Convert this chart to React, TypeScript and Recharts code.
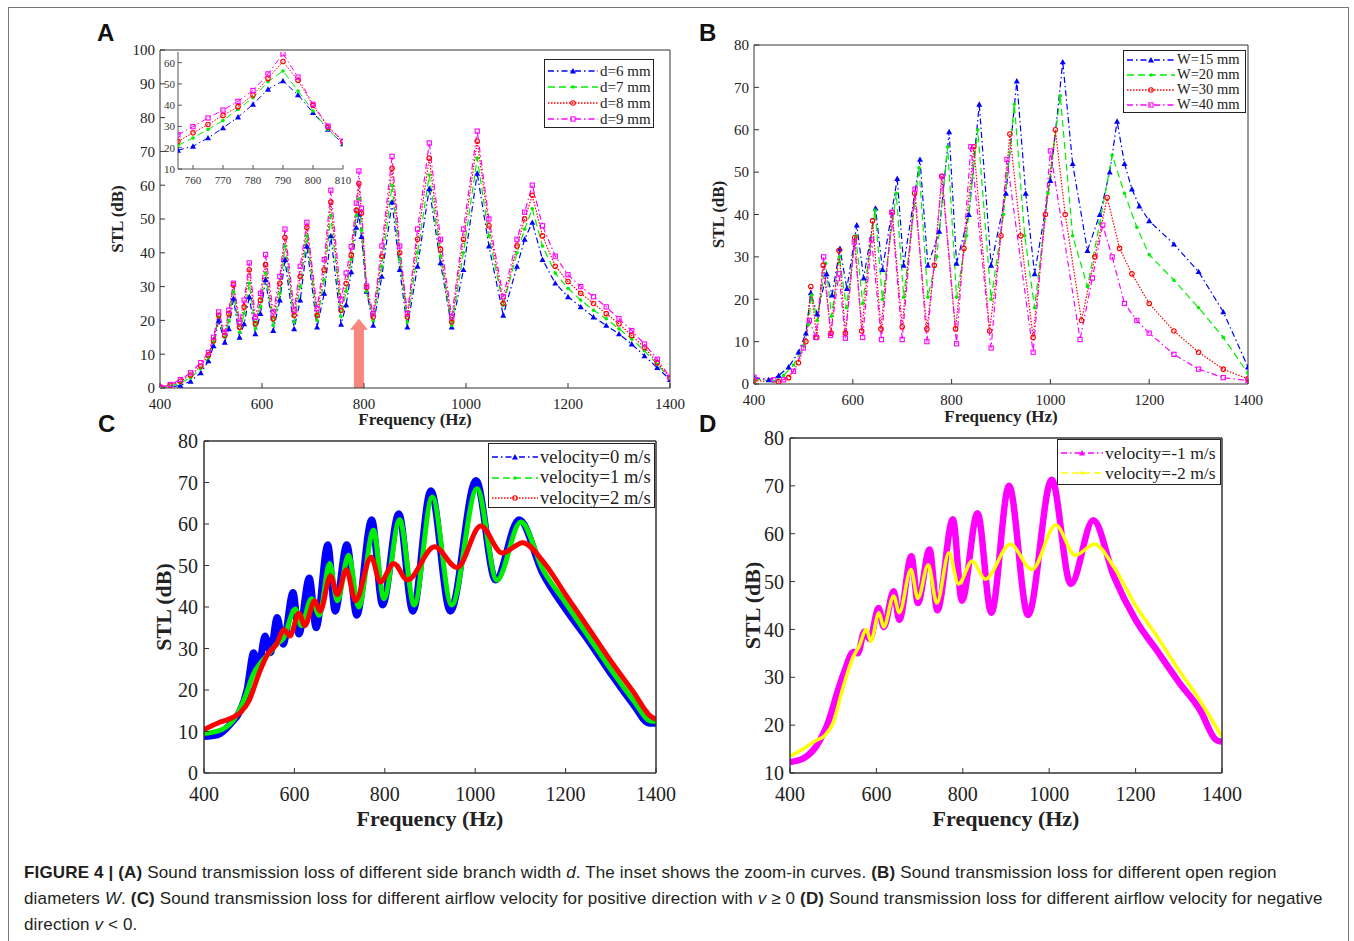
import React from 'react';
import { LineChart, Line, XAxis, YAxis, ReferenceLine } from 'recharts';

const SERIF = '"Liberation Serif", "Times New Roman", serif';
const SANS = '"Liberation Sans", Arial, sans-serif';

// ---------- Panel A: side branch width d ----------
const freqA = [400, 420, 440, 460, 480, 495, 505, 515, 527, 535, 544, 556, 565, 575, 587, 597, 607, 622, 635, 645,
  663, 675, 688, 708, 722, 735, 755, 765, 775, 785, 790, 795, 805, 818, 835, 855, 870, 885, 905, 928,
  950, 972, 995, 1022, 1045, 1073, 1100, 1115, 1130, 1150, 1175, 1200, 1225, 1250, 1275, 1300, 1325, 1350, 1375, 1400];
const stlA6 = [0, 0.2, 0.8, 2, 4.5, 8, 12.5, 20, 13.5, 17.5, 26.5, 15, 19, 27, 16, 22, 32, 17, 26, 38,
  17.5, 26, 42, 18, 28, 45, 18.8, 24.6, 34.4, 47.5, 51.4, 44.8, 28.6, 18.5, 33, 55, 35, 18, 36, 59,
  37, 18, 35, 63.5, 42, 21.5, 36, 44, 49, 38, 31, 27, 24, 21, 18.5, 16, 13, 9.5, 6, 2.5];
const stlA7 = [0, 0.5, 1.5, 3, 5.8, 9, 13.5, 21, 15, 20, 28.5, 16.5, 22, 31, 17.5, 24, 34, 18.5, 28, 42,
  19.5, 30, 45, 20, 32, 51, 21.1, 28.6, 38, 51, 56, 46.7, 28.6, 20, 36, 60, 38, 19.5, 40, 63,
  39, 18.5, 40, 68, 45, 24.5, 40, 47, 53, 42, 34, 29.5, 26, 23, 20.5, 17.5, 14.5, 11, 7, 2.8];
const stlA8 = [0.2, 0.8, 2, 3.8, 6.5, 9.8, 14, 21.5, 15.5, 22, 30.5, 18, 24, 35, 19, 26, 36.5, 20.5, 31, 44.5,
  21.5, 33, 47.5, 21.5, 35, 55, 23, 30.9, 39.3, 52.6, 60.5, 51.7, 29.7, 21, 39, 65, 40, 21, 44, 68,
  41, 19.5, 44, 73, 48, 25, 42, 50, 57, 45, 36, 31.5, 28, 25, 22, 19, 15.5, 12, 7.5, 3];
const stlA9 = [0.3, 1, 2.5, 4.5, 7.5, 10.5, 15, 22.5, 16.5, 23, 31, 19.5, 26, 37, 21, 28, 39.5, 22.5, 33, 47,
  23, 36, 49, 23.5, 38, 58.5, 26.1, 34, 41.8, 54.7, 64.2, 53.2, 30.2, 22, 42, 68.5, 42, 22, 47, 72.5,
  44, 21, 47, 76, 50, 27, 44, 52, 60, 48, 39, 33.5, 30, 27, 24, 20.5, 17, 13, 8.5, 3.2];

// inset (zoom-in around 790 Hz)
const freqInset = [755, 760, 765, 770, 775, 780, 785, 790, 795, 800, 805, 810];
const insetA6 = [18.8, 20.7, 24.6, 29.3, 34.4, 40.4, 47.5, 51.4, 44.8, 36.5, 28.6, 21.8];
const insetA7 = [21.1, 24.6, 28.6, 32.8, 38, 43.5, 51, 56.1, 46.7, 37.3, 28.6, 21.8];
const insetA8 = [23, 27, 30.9, 35.2, 39.3, 44.8, 52.6, 60.5, 51.7, 39.9, 29.7, 22.8];
const insetA9 = [26.1, 29.9, 34, 37.7, 41.8, 46.9, 54.7, 64.2, 53.2, 40.4, 30.2, 23.1];

// ---------- Panel B: open region diameter W ----------
const freqB15 = [400, 430, 450, 470, 490, 505, 515, 528, 547, 558, 574, 588, 608, 622, 646, 660, 690, 703, 736, 752,
  775, 795, 810, 835, 856, 880, 910, 932, 950, 968, 1000, 1025, 1045, 1075, 1100, 1120, 1135, 1150, 1165, 1180,
  1200, 1250, 1300, 1350, 1400];
const stlB15 = [1.5, 1, 2, 4, 7.5, 12, 21.5, 16.5, 26, 21, 32, 22.5, 37.5, 25, 41.5, 27, 48.5, 28, 53, 28,
  36, 59.5, 28.5, 40, 66, 28, 45, 71.5, 45, 26, 48, 76, 52, 31.5, 40, 50, 62, 52, 46, 42,
  38.5, 33, 26.5, 17, 4];
const freqB20 = [400, 440, 460, 480, 500, 510, 517, 528, 545, 557, 573, 587, 606, 620, 645, 660, 688, 703, 734, 752,
  770, 792, 810, 830, 853, 880, 905, 927, 948, 968, 995, 1020, 1045, 1075, 1100, 1125, 1150, 1175, 1200, 1250,
  1300, 1350, 1400];
const stlB20 = [1.2, 0.6, 2, 4.5, 9, 14, 21, 15, 28.5, 16, 30, 18, 35, 19, 41, 20, 45, 20.5, 51, 20.5,
  30, 56, 20.5, 35, 60, 20, 40, 66, 35, 18, 45, 68, 35, 23, 38, 54, 45, 37, 30.5, 24.5,
  18, 11, 2.5];
const freqB30 = [400, 450, 470, 490, 505, 515, 527, 540, 556, 572, 585, 604, 618, 640, 657, 680, 700, 725, 750, 765,
  780, 808, 825, 845, 877, 900, 918, 940, 965, 990, 1010, 1030, 1063, 1090, 1115, 1140, 1165, 1200, 1250, 1300,
  1350, 1400];
const stlB30 = [0.8, 0.5, 1.5, 5, 10, 23, 11, 28, 12, 31.5, 12, 34.5, 12.5, 38.5, 13, 40.5, 13.5, 45, 13, 28,
  49, 13, 32, 56, 12.5, 35, 59, 35, 11, 40, 60, 40, 15, 30, 44, 32, 26, 19, 12.5, 7.5,
  3.5, 1.2];
const freqB40 = [400, 440, 460, 480, 500, 512, 525, 541, 555, 572, 585, 603, 620, 638, 658, 679, 700, 726, 750, 781,
  810, 839, 880, 912, 965, 1000, 1060, 1085, 1106, 1125, 1150, 1175, 1200, 1250, 1300, 1350, 1400];
const stlB40 = [1.6, 1, 1, 3, 8.5, 15, 11, 30, 11.5, 26, 10.8, 33.5, 11, 34, 10.5, 40.5, 10.5, 46, 10, 49,
  9.5, 56, 8.5, 53, 7.5, 55, 10.5, 25, 37.5, 30, 19, 15, 12, 7, 3.5, 1.5, 0.8];

// ---------- Panel C: airflow velocity, positive ----------
const freqC0 = [400, 430, 460, 480, 495, 510, 520, 535, 547, 562, 575, 597, 610, 633, 648, 674, 690, 716, 738, 771,
  795, 831, 862, 902, 945, 1002, 1045, 1097, 1150, 1200, 1250, 1300, 1350, 1385, 1400];
const stlC0 = [8.8, 9.2, 12, 15, 20, 29, 25, 33, 29, 37.5, 31, 43.5, 33.5, 47, 35, 55, 39, 55, 38, 61,
  40.5, 62.5, 39, 68, 39, 70.5, 46.5, 61, 48, 39.5, 32, 24, 16.5, 12, 12];
const freqC1 = [400, 440, 470, 490, 510, 525, 545, 560, 576, 602, 615, 638, 655, 678, 695, 720, 742, 775, 798, 833,
  865, 905, 948, 1004, 1048, 1101, 1150, 1200, 1250, 1300, 1350, 1390, 1400];
const stlC1 = [9.5, 10.5, 13.5, 18, 24, 26.5, 29, 31, 32.5, 39.5, 35.5, 42, 38, 50.5, 41.5, 52.5, 40, 58.5, 42, 61,
  40.5, 66.5, 40.5, 68.5, 46.5, 60.5, 49, 41, 33, 25, 17.5, 12.5, 12.5];
const freqC2 = [400, 430, 460, 480, 500, 520, 540, 560, 577, 590, 610, 623, 645, 657, 680, 695, 715, 735, 770, 790,
  820, 850, 910, 960, 1012, 1060, 1105, 1150, 1200, 1250, 1300, 1350, 1390, 1400];
const stlC2 = [10.5, 12, 13.2, 14.5, 17.5, 23.5, 28.5, 31, 34.5, 33, 38.5, 35.5, 41.5, 39, 47.5, 43, 49, 41.5, 52, 46,
  50.5, 46.5, 54.5, 49.5, 59.5, 53, 55.5, 51, 43, 35, 27, 19.5, 13.5, 13];

// ---------- Panel D: airflow velocity, negative ----------
const freqD1 = [400, 430, 460, 490, 510, 525, 547, 557, 572, 585, 605, 617, 640, 653, 681, 696, 723, 741, 777, 798,
  834, 866, 907, 951, 1006, 1050, 1102, 1150, 1200, 1250, 1300, 1350, 1385, 1400];
const stlD1 = [12.3, 13, 15.5, 21, 27, 31, 35.3, 35, 39.5, 38, 44.5, 40.5, 48, 42, 55.3, 45.5, 56.7, 44, 63, 46,
  64.3, 43.5, 70, 43, 71.3, 49.5, 62.8, 51, 42, 35.5, 29, 23, 17, 16.5];
const freqD2 = [400, 430, 460, 480, 500, 520, 545, 560, 577, 587, 606, 617, 640, 653, 680, 696, 720, 740, 768, 790,
  822, 852, 910, 960, 1015, 1060, 1105, 1150, 1200, 1250, 1300, 1350, 1400];
const stlD2 = [13.5, 15, 16.8, 17.8, 20.5, 27, 34, 36.5, 40, 37.5, 43.5, 40.5, 47, 43.5, 52.5, 46.5, 53.5, 45.5, 56, 49.5,
  54.3, 50.5, 57.8, 52.5, 61.8, 55.5, 57.8, 53, 45, 38.5, 31.5, 25, 17.5];

const freqTicks = [400, 600, 800, 1000, 1200, 1400];

const zip = (f: number[], v: number[]) => f.map((x, i) => ({ f: x, v: v[i] }));

const BLUE = '#0000ff';
const GREEN = '#00ee00';
const RED = '#ff0000';
const MAGENTA = '#ff00ff';
const YELLOW = '#ffff00';

const DASHDOT = '6 3 1.5 3';
const DASHED = '7 4';
const DOTTED = '1.5 1.5';

type Marker = 'tri' | 'dot' | 'circ' | 'sq' | 'none';

type Series = {
  name: string;
  color: string;
  dash: string;
  marker: Marker;
  data: { f: number; v: number }[];
  width?: number;
  curve?: 'linear' | 'monotone';
};

const drawMarker = (kind: Marker, color: string, s: number, cx: number, cy: number, key: any) => {
  if (kind === 'tri')
    return <polygon key={key} points={`${cx},${cy - s} ${cx - s},${cy + s * 0.8} ${cx + s},${cy + s * 0.8}`} fill={color} />;
  if (kind === 'dot') return <circle key={key} cx={cx} cy={cy} r={s * 0.6} fill={color} />;
  if (kind === 'circ') return <circle key={key} cx={cx} cy={cy} r={s * 0.75} fill="none" stroke={color} strokeWidth={1.1} />;
  if (kind === 'sq')
    return <rect key={key} x={cx - s * 0.7} y={cy - s * 0.7} width={s * 1.4} height={s * 1.4} fill="none" stroke={color} strokeWidth={1.1} />;
  return <g key={key} />;
};

const dotFn = (kind: Marker, color: string, s: number) => (p: any) => {
  if (p.cx == null || p.cy == null) return <g key={p.index} />;
  return drawMarker(kind, color, s, p.cx, p.cy, p.index);
};

type PanelProps = {
  box: [number, number, number, number];
  yDomain: [number, number];
  yTicks: number[];
  series: Series[];
  tickFont: number;
  titleFont: number;
  xTickMargin: number;
  yTickMargin: number;
  xTitleOffset: number;
  yTitleOffset: number;
  markerSize: number;
  axisWidth?: number;
  children?: React.ReactNode;
};

function Panel({ box, yDomain, yTicks, series, tickFont, titleFont, xTickMargin, yTickMargin, xTitleOffset, yTitleOffset, markerSize, axisWidth = 1, children }: PanelProps) {
  const [x0, y0, x1, y1] = box;
  const left = x0 - 70;
  const top = y0 - 10;
  const width = x1 - x0 + 100;
  const height = y1 - y0 + 75;
  const tick = { fill: '#222', fontSize: tickFont, fontFamily: SERIF };
  const titleStyle = { fill: '#222', fontSize: titleFont, fontFamily: SERIF, fontWeight: 700, textAnchor: 'middle' as const };
  const axisLine = { stroke: '#333', strokeWidth: axisWidth };
  return (
    <div style={{ position: 'absolute', left, top }}>
      <LineChart width={width} height={height} margin={{ top: 5, right: 25, bottom: 15, left: 10 }}>
        <XAxis xAxisId="b" type="number" dataKey="f" domain={[400, 1400]} ticks={freqTicks} allowDataOverflow interval={0}
          tickSize={-5} tickMargin={xTickMargin} height={50} axisLine={axisLine} tickLine={{ stroke: '#333' }} tick={tick}
          label={{ value: 'Frequency (Hz)', position: 'insideTop', offset: xTitleOffset, style: titleStyle }} />
        <XAxis xAxisId="t" orientation="top" type="number" dataKey="f" domain={[400, 1400]} ticks={freqTicks} allowDataOverflow
          interval={0} tickSize={-5} height={5} axisLine={axisLine} tickLine={{ stroke: '#333' }} tick={false} />
        <YAxis yAxisId="l" type="number" domain={yDomain} ticks={yTicks} allowDataOverflow interval={0}
          tickSize={-5} tickMargin={yTickMargin} width={60} axisLine={axisLine} tickLine={{ stroke: '#333' }} tick={tick}
          label={{ value: 'STL (dB)', angle: -90, position: 'insideLeft', offset: yTitleOffset, style: titleStyle }} />
        <YAxis yAxisId="r" orientation="right" type="number" domain={yDomain} ticks={yTicks} allowDataOverflow interval={0}
          tickSize={-5} width={5} axisLine={axisLine} tickLine={{ stroke: '#333' }} tick={false} />
        {series.map((s) => (
          <Line key={s.name} xAxisId="b" yAxisId="l" data={s.data} dataKey="v" type={s.curve || 'linear'}
            stroke={s.color} strokeWidth={s.width || 1.2} strokeDasharray={s.width && s.width > 2 ? undefined : s.dash}
            dot={s.marker === 'none' ? false : dotFn(s.marker, s.color, markerSize)} activeDot={false}
            isAnimationActive={false} />
        ))}
        {children}
      </LineChart>
    </div>
  );
}

type LegendProps = {
  x: number; y: number; w: number; h: number;
  rowH: number; firstY: number; lineW: number; fontSize: number; markerSize: number;
  items: { name: string; color: string; dash: string; marker: Marker }[];
};

function LegendBox({ x, y, w, h, rowH, firstY, lineW, fontSize, markerSize, items }: LegendProps) {
  return (
    <div style={{ position: 'absolute', left: x, top: y, width: w, height: h, border: '1.5px solid #222', boxSizing: 'border-box', background: '#fff' }}>
      {items.map((it, i) => {
        const cy = firstY + i * rowH;
        return (
          <div key={it.name}>
            <svg style={{ position: 'absolute', left: 3, top: cy - 8 }} width={lineW} height={16}>
              <line x1={0} y1={8} x2={lineW} y2={8} stroke={it.color} strokeWidth={1.3} strokeDasharray={it.dash} />
              {drawMarker(it.marker, it.color, markerSize, lineW / 2, 8, 'm')}
            </svg>
            <div style={{ position: 'absolute', left: lineW + 5, top: cy - fontSize * 0.6, fontFamily: SERIF, fontSize, lineHeight: `${fontSize * 1.2}px`, color: '#222', whiteSpace: 'nowrap' }}>
              {it.name}
            </div>
          </div>
        );
      })}
    </div>
  );
}

function Inset() {
  const [x0, y0, x1, y1] = [178, 52, 343, 169];
  const tick = { fill: '#333', fontSize: 11, fontFamily: SERIF };
  const rows: Series[] = [
    { name: 'i6', color: BLUE, dash: DASHDOT, marker: 'tri', data: zip(freqInset, insetA6) },
    { name: 'i7', color: GREEN, dash: DASHED, marker: 'dot', data: zip(freqInset, insetA7) },
    { name: 'i8', color: RED, dash: DOTTED, marker: 'circ', data: zip(freqInset, insetA8) },
    { name: 'i9', color: MAGENTA, dash: DASHDOT, marker: 'sq', data: zip(freqInset, insetA9) },
  ];
  return (
    <div style={{ position: 'absolute', left: x0 - 40, top: y0 - 5 }}>
      <LineChart width={x1 - x0 + 60} height={y1 - y0 + 30} margin={{ top: 5, right: 20, bottom: 5, left: 5 }}>
        <XAxis type="number" dataKey="f" domain={[755, 810]} ticks={[760, 770, 780, 790, 800, 810]} allowDataOverflow interval={0}
          tickSize={-4} tickMargin={11} height={20} stroke="#555" tick={tick} />
        <YAxis type="number" domain={[10, 65]} ticks={[10, 20, 30, 40, 50, 60]} allowDataOverflow interval={0}
          tickSize={-4} tickMargin={7} width={35} stroke="#555" tick={tick} />
        {rows.map((s) => (
          <Line key={s.name} data={s.data} dataKey="v" type="linear" stroke={s.color} strokeWidth={1}
            strokeDasharray={s.dash} dot={dotFn(s.marker, s.color, 3)} activeDot={false} isAnimationActive={false} />
        ))}
      </LineChart>
    </div>
  );
}

const arrowShape = (p: any) => {
  const { x1, y1, x2, y2 } = p;
  const cx = (x1 + x2) / 2;
  const tip = Math.min(y1, y2);
  const base = Math.max(y1, y2);
  const headH = 11;
  const pts = [
    [cx - 5, base], [cx - 5, tip + headH], [cx - 9, tip + headH], [cx, tip],
    [cx + 9, tip + headH], [cx + 5, tip + headH], [cx + 5, base],
  ].map((q) => q.join(',')).join(' ');
  return <polygon points={pts} fill="#f7877f" />;
};

const seriesA: Series[] = [
  { name: 'd=6 mm', color: BLUE, dash: DASHDOT, marker: 'tri', data: zip(freqA, stlA6) },
  { name: 'd=7 mm', color: GREEN, dash: DASHED, marker: 'dot', data: zip(freqA, stlA7) },
  { name: 'd=8 mm', color: RED, dash: DOTTED, marker: 'circ', data: zip(freqA, stlA8) },
  { name: 'd=9 mm', color: MAGENTA, dash: DASHDOT, marker: 'sq', data: zip(freqA, stlA9) },
];

const seriesB: Series[] = [
  { name: 'W=15 mm', color: BLUE, dash: DASHDOT, marker: 'tri', data: zip(freqB15, stlB15) },
  { name: 'W=20 mm', color: GREEN, dash: DASHED, marker: 'dot', data: zip(freqB20, stlB20) },
  { name: 'W=30 mm', color: RED, dash: DOTTED, marker: 'circ', data: zip(freqB30, stlB30) },
  { name: 'W=40 mm', color: MAGENTA, dash: DASHDOT, marker: 'sq', data: zip(freqB40, stlB40) },
];

const seriesC: Series[] = [
  { name: 'velocity=0 m/s', color: BLUE, dash: DASHDOT, marker: 'tri', data: zip(freqC0, stlC0), width: 7, curve: 'monotone' },
  { name: 'velocity=1 m/s', color: GREEN, dash: DASHED, marker: 'dot', data: zip(freqC1, stlC1), width: 5, curve: 'monotone' },
  { name: 'velocity=2 m/s', color: RED, dash: DOTTED, marker: 'circ', data: zip(freqC2, stlC2), width: 5, curve: 'monotone' },
];

const seriesD: Series[] = [
  { name: 'velocity=-1 m/s', color: MAGENTA, dash: DASHDOT, marker: 'tri', data: zip(freqD1, stlD1), width: 6.5, curve: 'monotone' },
  { name: 'velocity=-2 m/s', color: YELLOW, dash: DASHED, marker: 'dot', data: zip(freqD2, stlD2), width: 3.5, curve: 'monotone' },
];

const noMarker = (s: Series[]) => s.map((x) => ({ ...x, marker: 'none' as Marker }));

const PanelLetter = ({ x, y, t }: { x: number; y: number; t: string }) => (
  <div style={{ position: 'absolute', left: x - 9, top: y - 12, fontFamily: SANS, fontWeight: 700, fontSize: 24, lineHeight: '24px', color: '#111' }}>{t}</div>
);

export default function App() {
  return (
    <div style={{ position: 'absolute', left: 0, top: 0, width: 1354, height: 941, background: '#fff', overflow: 'hidden' }}>
      <div style={{ position: 'absolute', left: 8, top: 7, width: 1341, height: 960, border: '1px solid #777', boxSizing: 'border-box' }} />

      <Panel box={[160, 50, 670, 388]} yDomain={[0, 100]} yTicks={[0, 10, 20, 30, 40, 50, 60, 70, 80, 90, 100]}
        series={seriesA} tickFont={15} titleFont={17} xTickMargin={15} yTickMargin={10} xTitleOffset={25} yTitleOffset={17} markerSize={3}>
        <ReferenceLine xAxisId="b" yAxisId="l" segment={[{ x: 790, y: 0 }, { x: 790, y: 20.5 }]} shape={arrowShape} />
      </Panel>
      <Inset />
      <LegendBox x={544} y={59} w={110} h={69} rowH={16} firstY={11} lineW={50} fontSize={15} markerSize={3} items={seriesA} />

      <Panel box={[754, 45, 1248, 384]} yDomain={[0, 80]} yTicks={[0, 10, 20, 30, 40, 50, 60, 70, 80]}
        series={seriesB} tickFont={15} titleFont={17} xTickMargin={15} yTickMargin={10} xTitleOffset={26} yTitleOffset={24} markerSize={3}>
      </Panel>
      <LegendBox x={1123} y={50} w={123} h={63} rowH={15} firstY={9} lineW={48} fontSize={14.5} markerSize={3} items={seriesB} />

      <Panel box={[204, 441, 656, 773]} yDomain={[0, 80]} yTicks={[0, 10, 20, 30, 40, 50, 60, 70, 80]}
        series={noMarker(seriesC)} tickFont={20} titleFont={22} xTickMargin={19} yTickMargin={11} xTitleOffset={37} yTitleOffset={19} markerSize={3} axisWidth={1.5} />
      <LegendBox x={488} y={443} w={167} h={65} rowH={20.5} firstY={13} lineW={46} fontSize={18.5} markerSize={3} items={seriesC} />

      <Panel box={[790, 438, 1222, 773]} yDomain={[10, 80]} yTicks={[10, 20, 30, 40, 50, 60, 70, 80]}
        series={noMarker(seriesD)} tickFont={20} titleFont={22} xTickMargin={19} yTickMargin={11} xTitleOffset={37} yTitleOffset={22} markerSize={3} axisWidth={1.5} />
      <LegendBox x={1057} y={439} w={164} h={46} rowH={20} firstY={13} lineW={42} fontSize={17.5} markerSize={3} items={seriesD} />

      <PanelLetter x={106} y={33} t="A" />
      <PanelLetter x={708} y={33} t="B" />
      <PanelLetter x={107} y={424} t="C" />
      <PanelLetter x={708} y={424} t="D" />

      <div style={{ position: 'absolute', left: 24, top: 860, width: 1320, fontFamily: SANS, fontSize: 17, letterSpacing: '0.15px', lineHeight: '26px', color: '#231f20', whiteSpace: 'nowrap' }}>
        <b>FIGURE 4 | (A)</b> Sound transmission loss of different side branch width <i>d</i>. The inset shows the zoom-in curves. <b>(B)</b> Sound transmission loss for different open region<br />
        diameters <i>W</i>. <b>(C)</b> Sound transmission loss for different airflow velocity for positive direction with <i>v</i> ≥ 0 <b>(D)</b> Sound transmission loss for different airflow velocity for negative<br />
        direction <i>v</i> &lt; 0.
      </div>
    </div>
  );
}
